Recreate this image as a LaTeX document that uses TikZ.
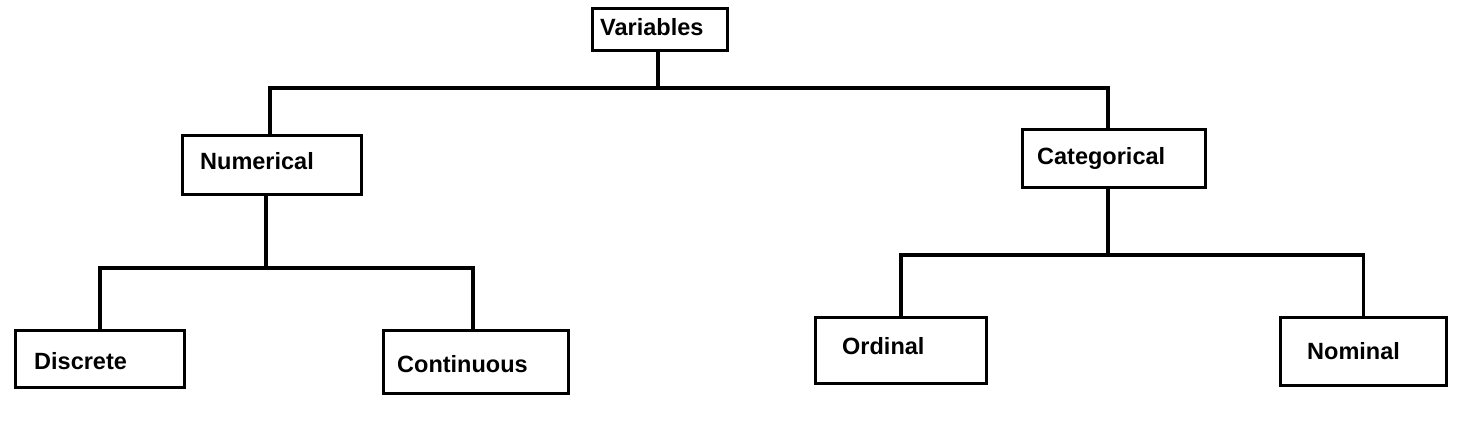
\documentclass[tikz,border=0pt]{standalone}
\usepackage{fontspec}
\setmainfont{Liberation Sans}
\usepackage{tikz}
\usetikzlibrary{positioning}

\begin{document}
\begin{tikzpicture}[
    x=1pt, y=-1pt,
    box/.style 2 args={rectangle, draw=black, line width=3.4pt, minimum width=#1, minimum height=#2, inner sep=0pt},
    lbl/.style={font=\fontsize{23.5}{27}\selectfont\bfseries, inner sep=0pt, anchor=base west},
    conn/.style={line width=3.4pt, line join=miter},
  ]
    \useasboundingbox (0,0) rectangle (1469,437);

    % Boxes
    \node[box={135pt}{42pt}] (var) at (660,29.5) {};
    \node[box={179pt}{59pt}] (num) at (272,165) {};
    \node[box={183pt}{58pt}] (cat) at (1114,158.5) {};
    \node[box={169pt}{57pt}] (dis) at (100,359) {};
    \node[box={185pt}{63pt}] (con) at (476,362) {};
    \node[box={171pt}{66pt}] (ord) at (901,350.5) {};
    \node[box={166pt}{68pt}] (nom) at (1363.5,351.5) {};

    % Labels
    \node[lbl] (var-t) at (600,35) {Variables};
    \node[lbl] (num-t) at (200,169) {Numerical};
    \node[lbl] (cat-t) at (1037,164) {Categorical};
    \node[lbl] (dis-t) at (34,369) {Discrete};
    \node[lbl] (con-t) at (397,372) {Continuous};
    \node[lbl] (ord-t) at (842,354) {Ordinal};
    \node[lbl] (nom-t) at (1307,359) {Nominal};

    % Branch points
    \coordinate (j1) at (658,88);
    \coordinate (j2) at (266,268);
    \coordinate (j3) at (1108,255);

    % Top level
    \draw[conn] ([xshift=-2pt]var.south) -- (j1);
    \draw[conn] ([xshift=-2pt]num.north) |- (j1) -| ([xshift=-6pt]cat.north);

    % Numerical branch
    \draw[conn] ([xshift=-6pt]num.south) -- (j2);
    \draw[conn] (dis.north) |- (j2) -| ([xshift=-3pt]con.north);

    % Categorical branch
    \draw[conn] ([xshift=-6pt]cat.south) -- ([yshift=-2pt]j3);
    \draw[conn] (ord.north) |- (j3) -| (nom.north);

\end{tikzpicture}
\end{document}
